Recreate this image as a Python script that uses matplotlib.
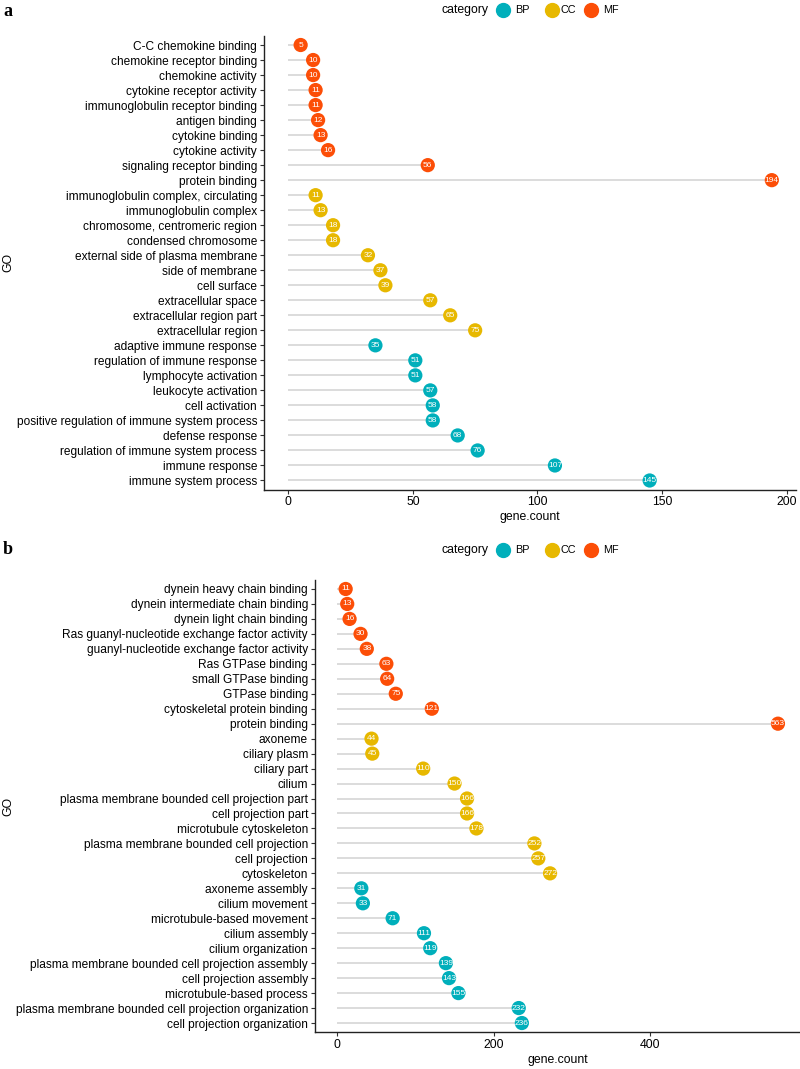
import matplotlib
matplotlib.use("Agg")
import matplotlib.pyplot as plt
from matplotlib.lines import Line2D

plt.rcParams['font.family'] = ['Liberation Sans', 'DejaVu Sans']

# panel a data (top to bottom)
terms_a = ["C-C chemokine binding", "chemokine receptor binding", "chemokine activity",
           "cytokine receptor activity", "immunoglobulin receptor binding", "antigen binding",
           "cytokine binding", "cytokine activity", "signaling receptor binding", "protein binding",
           "immunoglobulin complex, circulating", "immunoglobulin complex",
           "chromosome, centromeric region", "condensed chromosome",
           "external side of plasma membrane", "side of membrane", "cell surface",
           "extracellular space", "extracellular region part", "extracellular region",
           "adaptive immune response", "regulation of immune response", "lymphocyte activation",
           "leukocyte activation", "cell activation", "positive regulation of immune system process",
           "defense response", "regulation of immune system process", "immune response",
           "immune system process"]
counts_a = [5, 10, 10, 11, 11, 12, 13, 16, 56, 194,
            11, 13, 18, 18, 32, 37, 39, 57, 65, 75,
            35, 51, 51, 57, 58, 58, 68, 76, 107, 145]
cats_a = ["MF"] * 10 + ["CC"] * 10 + ["BP"] * 10

# panel b data (top to bottom)
terms_b = ["dynein heavy chain binding", "dynein intermediate chain binding",
           "dynein light chain binding", "Ras guanyl-nucleotide exchange factor activity",
           "guanyl-nucleotide exchange factor activity", "Ras GTPase binding",
           "small GTPase binding", "GTPase binding", "cytoskeletal protein binding",
           "protein binding", "axoneme", "ciliary plasm", "ciliary part", "cilium",
           "plasma membrane bounded cell projection part", "cell projection part",
           "microtubule cytoskeleton", "plasma membrane bounded cell projection",
           "cell projection", "cytoskeleton", "axoneme assembly", "cilium movement",
           "microtubule-based movement", "cilium assembly", "cilium organization",
           "plasma membrane bounded cell projection assembly", "cell projection assembly",
           "microtubule-based process", "plasma membrane bounded cell projection organization",
           "cell projection organization"]
counts_b = [11, 13, 16, 30, 38, 63, 64, 75, 121, 563,
            44, 45, 110, 150, 166, 166, 178, 252, 257, 272,
            31, 33, 71, 111, 119, 139, 143, 155, 232, 236]
cats_b = ["MF"] * 10 + ["CC"] * 10 + ["BP"] * 10

xticks_a = [0, 50, 100, 150, 200]
xticks_b = [0, 200, 400]

palette = {"BP": "#00AFBB", "CC": "#E7B800", "MF": "#FC4E07"}

W, H = 800, 1069
fig = plt.figure(figsize=(W / 100, H / 100), dpi=100)


def px_axes(left, top, right, bottom):
    return fig.add_axes([left / W, 1 - bottom / H, (right - left) / W, (bottom - top) / H])


def draw_panel(ax, terms, counts, cats, xticks):
    n = len(terms)
    ys = list(range(n - 1, -1, -1))
    for y, c in zip(ys, counts):
        ax.plot([0, c], [y, y], color="#D9D9D9", lw=1.3, zorder=1, solid_capstyle="butt")
    cols = [palette[k] for k in cats]
    ax.scatter(counts, ys, s=105, c=cols, zorder=2, linewidths=0)
    for y, c in zip(ys, counts):
        ax.text(c, y, str(c), color="white", fontsize=6, ha="center", va="center", zorder=3)
    xmax = max(counts)
    ax.set_xlim(-0.05 * xmax, 1.05 * xmax)
    ax.set_ylim(-0.6, n - 0.4)
    ax.set_yticks(ys)
    ax.set_yticklabels(terms, fontsize=8.6)
    ax.set_xticks(xticks)
    ax.set_xticklabels([str(t) for t in xticks], fontsize=8.8)
    ax.set_xlabel("gene.count", fontsize=8.8, labelpad=2)
    for s in ["top", "right"]:
        ax.spines[s].set_visible(False)
    for s in ["left", "bottom"]:
        ax.spines[s].set_color("#222222")
        ax.spines[s].set_linewidth(1.0)
    ax.tick_params(axis="both", length=3, width=0.8, color="#333333", pad=2)


def draw_legend(y):
    fig.text(465 / W, 1 - y / H, "category", fontsize=8.8, ha="center", va="center")
    for x, lab, tx in [(503, "BP", 522), (552, "CC", 568), (591, "MF", 611)]:
        fig.add_artist(Line2D([x / W], [1 - y / H], marker="o", markersize=10,
                              color=palette[lab], transform=fig.transFigure))
        fig.text(tx / W, 1 - y / H, lab, fontsize=7.8, ha="center", va="center")


ax_a = px_axes(264, 36, 796, 489.5)
draw_panel(ax_a, terms_a, counts_a, cats_a, xticks_a)
ax_b = px_axes(315, 580, 800, 1032)
draw_panel(ax_b, terms_b, counts_b, cats_b, xticks_b)

fig.text(8 / W, 1 - 262 / H, "GO", rotation=90, fontsize=8.8, ha="center", va="center")
fig.text(8 / W, 1 - 806 / H, "GO", rotation=90, fontsize=8.8, ha="center", va="center")

fig.text(3 / W, 1 - 11 / H, "a", fontsize=13, fontweight="bold", family="Liberation Serif",
         ha="left", va="center")
fig.text(3 / W, 1 - 550 / H, "b", fontsize=13, fontweight="bold", family="Liberation Serif",
         ha="left", va="center")

draw_legend(10)
draw_legend(550)

fig.savefig("out.png", dpi=100)
